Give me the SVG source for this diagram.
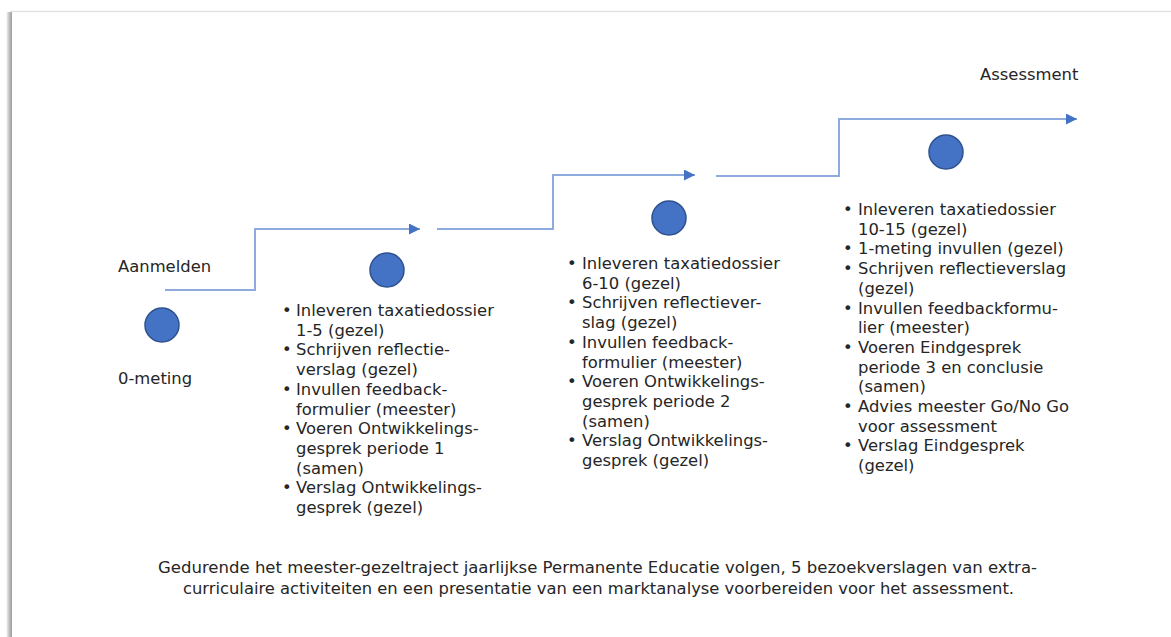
<svg xmlns="http://www.w3.org/2000/svg" width="1171" height="637" viewBox="0 0 1171 637">
<defs>
<style>
.t{font-family:"DejaVu Sans","Verdana",sans-serif;font-size:16.4px;fill:#262626}
.c{fill:#4472C4;stroke:#2F528F;stroke-width:1.5}
.ln{fill:none;stroke:#8FAADC;stroke-width:2}
</style>
<marker id="ah" viewBox="0 0 10 10" refX="10" refY="5" markerWidth="11" markerHeight="11" markerUnits="userSpaceOnUse" orient="auto">
<path d="M0,0 L10,5 L0,10 Z" fill="#4472C4"/>
</marker>
<linearGradient id="sh" x1="0" x2="1" y1="0" y2="0">
<stop offset="0" stop-color="#ffffff"/>
<stop offset="0.5" stop-color="#c4c4c4"/>
<stop offset="1" stop-color="#9a9a9a"/>
</linearGradient>
</defs>
<rect width="1171" height="637" fill="#ffffff"/>
<g id="frame">
<rect x="6" y="12" width="6" height="625" fill="url(#sh)"/>
<line x1="10" y1="11.5" x2="1171" y2="11.5" stroke="#e2e2e2" stroke-width="1.5"/>
</g>
<g id="connectors">
<polyline class="ln" points="165,290 255,290 255,229 420,229" marker-end="url(#ah)"/>
<polyline class="ln" points="437,229 553,229 553,175 695,175" marker-end="url(#ah)"/>
<polyline class="ln" points="716,176 839,176 839,119 1077,119" marker-end="url(#ah)"/>
</g>
<g id="start">
<circle class="c" cx="162" cy="325" r="17"/>
<text class="t" x="118" y="272">Aanmelden</text>
<text class="t" x="118" y="384">0-meting</text>
</g>
<g id="period1">
<circle class="c" cx="387" cy="270" r="17"/>
<g class="t">
<text x="282" y="316">•</text><text x="296" y="316">Inleveren taxatiedossier</text>
<text x="296" y="335.7">1-5 (gezel)</text>
<text x="282" y="355.4">•</text><text x="296" y="355.4">Schrijven reflectie-</text>
<text x="296" y="375.1">verslag (gezel)</text>
<text x="282" y="394.8">•</text><text x="296" y="394.8">Invullen feedback-</text>
<text x="296" y="414.5">formulier (meester)</text>
<text x="282" y="434.2">•</text><text x="296" y="434.2">Voeren Ontwikkelings-</text>
<text x="296" y="453.9">gesprek periode 1</text>
<text x="296" y="473.6">(samen)</text>
<text x="282" y="493.3">•</text><text x="296" y="493.3">Verslag Ontwikkelings-</text>
<text x="296" y="513">gesprek (gezel)</text>
</g>
</g>
<g id="period2">
<circle class="c" cx="669" cy="218" r="17"/>
<g class="t">
<text x="567" y="269">•</text><text x="582" y="269">Inleveren taxatiedossier</text>
<text x="582" y="288.7">6-10 (gezel)</text>
<text x="567" y="308.4">•</text><text x="582" y="308.4">Schrijven reflectiever-</text>
<text x="582" y="328.1">slag (gezel)</text>
<text x="567" y="347.8">•</text><text x="582" y="347.8">Invullen feedback-</text>
<text x="582" y="367.5">formulier (meester)</text>
<text x="567" y="387.2">•</text><text x="582" y="387.2">Voeren Ontwikkelings-</text>
<text x="582" y="406.9">gesprek periode 2</text>
<text x="582" y="426.6">(samen)</text>
<text x="567" y="446.3">•</text><text x="582" y="446.3">Verslag Ontwikkelings-</text>
<text x="582" y="466">gesprek (gezel)</text>
</g>
</g>
<g id="period3">
<circle class="c" cx="946" cy="152" r="17"/>
<text class="t" x="980" y="80">Assessment</text>
<g class="t">
<text x="843" y="215">•</text><text x="858" y="215">Inleveren taxatiedossier</text>
<text x="858" y="234.7">10-15 (gezel)</text>
<text x="843" y="254.4">•</text><text x="858" y="254.4">1-meting invullen (gezel)</text>
<text x="843" y="274.1">•</text><text x="858" y="274.1">Schrijven reflectieverslag</text>
<text x="858" y="293.8">(gezel)</text>
<text x="843" y="313.5">•</text><text x="858" y="313.5">Invullen feedbackformu-</text>
<text x="858" y="333.2">lier (meester)</text>
<text x="843" y="352.9">•</text><text x="858" y="352.9">Voeren Eindgesprek</text>
<text x="858" y="372.6">periode 3 en conclusie</text>
<text x="858" y="392.3">(samen)</text>
<text x="843" y="412">•</text><text x="858" y="412">Advies meester Go/No Go</text>
<text x="858" y="431.7">voor assessment</text>
<text x="843" y="451.4">•</text><text x="858" y="451.4">Verslag Eindgesprek</text>
<text x="858" y="471.1">(gezel)</text>
</g>
</g>
<g id="note">
<text class="t" x="158" y="573" textLength="879" lengthAdjust="spacingAndGlyphs">Gedurende het meester-gezeltraject jaarlijkse Permanente Educatie volgen, 5 bezoekverslagen van extra-</text>
<text class="t" x="183" y="594" textLength="831" lengthAdjust="spacingAndGlyphs">curriculaire activiteiten en een presentatie van een marktanalyse voorbereiden voor het assessment.</text>
</g>
</svg>
